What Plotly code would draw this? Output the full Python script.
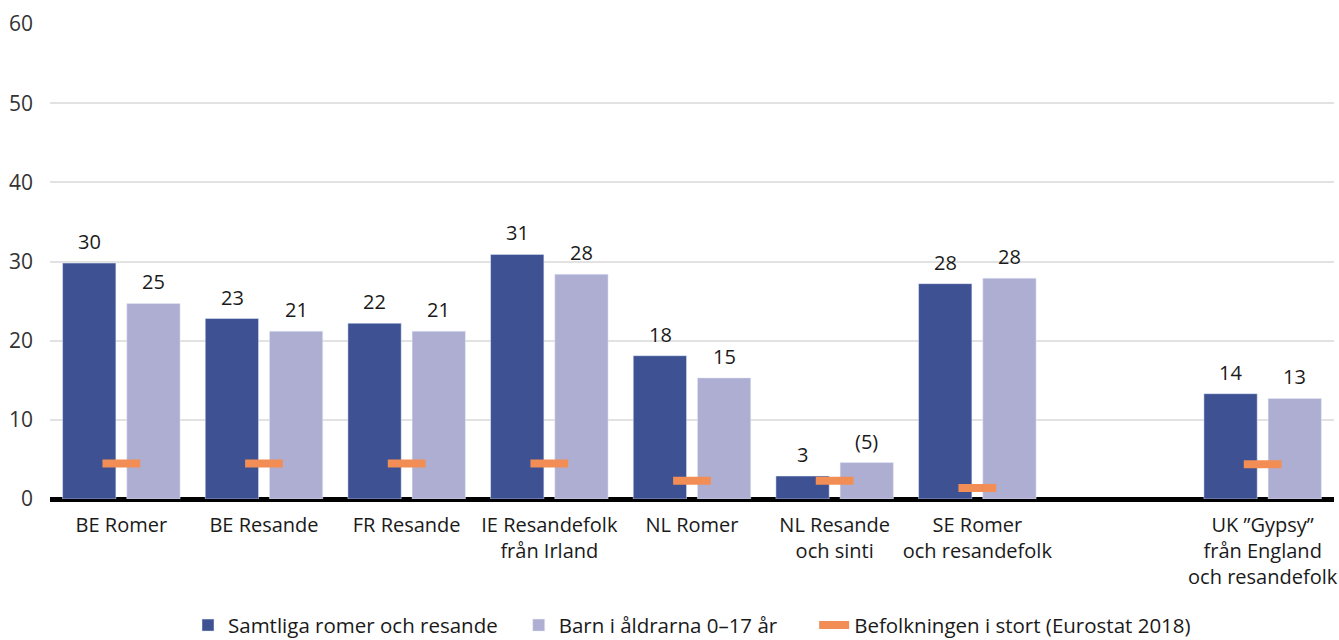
import plotly.graph_objects as go

categories = ["BE Romer", "BE Resande", "FR Resande", "IE Resandefolk<br>från Irland",
              "NL Romer", "NL Resande<br>och sinti", "SE Romer<br>och resandefolk", " ",
              "UK ”Gypsy”<br>från England<br>och resandefolk"]
samtliga = [29.8, 22.8, 22.2, 30.9, 18.1, 2.9, 27.2, None, 13.3]
barn = [24.7, 21.2, 21.2, 28.4, 15.3, 4.6, 27.9, None, 12.7]
befolkning = [4.5, 4.5, 4.5, 4.5, 2.3, 2.3, 1.4, None, 4.4]
samtliga_labels = ["30", "23", "22", "31", "18", "3", "28", "", "14"]
barn_labels = ["25", "21", "21", "28", "15", "(5)", "28", "", "13"]
ytick_vals = [0, 10, 20, 30, 40, 50, 60]

DARK = "#3D5193"
LIGHT = "#AEAED3"
ORANGE = "#F28E55"
FONT = "Open Sans"

fig = go.Figure()
fig.add_trace(go.Bar(x=categories, y=samtliga, name="Samtliga romer och resande" + "\u00a0" * 3,
                     marker_color=DARK, hoverinfo="skip"))
fig.add_trace(go.Bar(x=categories, y=barn, name="Barn i åldrarna 0–17 år" + "\u00a0" * 6,
                     marker_color=LIGHT, hoverinfo="skip"))
fig.add_trace(go.Scatter(x=categories, y=befolkning, mode="markers", showlegend=False,
                         marker=dict(symbol="line-ew", size=27,
                                     line=dict(width=8, color=ORANGE), color=ORANGE),
                         hoverinfo="skip"))
# legend entry for the orange marks
fig.add_trace(go.Scatter(x=[None], y=[None], mode="lines", name="Befolkningen i stort (Eurostat 2018)",
                         line=dict(color=ORANGE, width=8)))

annotations = []
for cat, v, lab in zip(categories, samtliga, samtliga_labels):
    if v is not None and lab:
        annotations.append(dict(x=cat, y=v, text=lab, showarrow=False, xref="x", yref="y",
                                yanchor="bottom", yshift=6, xshift=-32,
                                font=dict(family=FONT, size=20, color="#1a1a1a")))
for cat, v, lab in zip(categories, barn, barn_labels):
    if v is not None and lab:
        annotations.append(dict(x=cat, y=v, text=lab, showarrow=False, xref="x", yref="y",
                                yanchor="bottom", yshift=6, xshift=32,
                                font=dict(family=FONT, size=20, color="#1a1a1a")))

fig.update_layout(
    width=1339, height=640,
    margin=dict(l=50, r=5, t=24, b=141),
    paper_bgcolor="white", plot_bgcolor="white",
    barmode="group", bargap=0.10, bargroupgap=0.17,
    font=dict(family=FONT, size=20, color="#1a1a1a"),
    annotations=annotations,
    legend=dict(orientation="h", x=0.5, xanchor="center", xref="paper",
                y=0.023, yanchor="middle", yref="container",
                font=dict(family=FONT, size=20.5, color="#1a1a1a"), traceorder="normal"),
    xaxis=dict(type="category", categoryorder="array", categoryarray=categories,
               range=[-0.5, len(categories) - 0.5],
               showgrid=False, showline=False, ticks="", ticklabelstandoff=12,
               automargin=False,
               tickfont=dict(family=FONT, size=20, color="#1a1a1a")),
    yaxis=dict(range=[0, 60], tickvals=ytick_vals, showgrid=True, gridcolor="#e2e2e2",
               gridwidth=1.5, zeroline=True, zerolinecolor="black", zerolinewidth=5,
               showline=False, ticks="", ticklabelstandoff=16, automargin=False,
               tickfont=dict(family=FONT, size=21, color="#333333")),
)

fig.write_html("out.html", config={"displayModeBar": False},
               post_script="document.body.style.margin='0';document.body.style.overflow='hidden';")
